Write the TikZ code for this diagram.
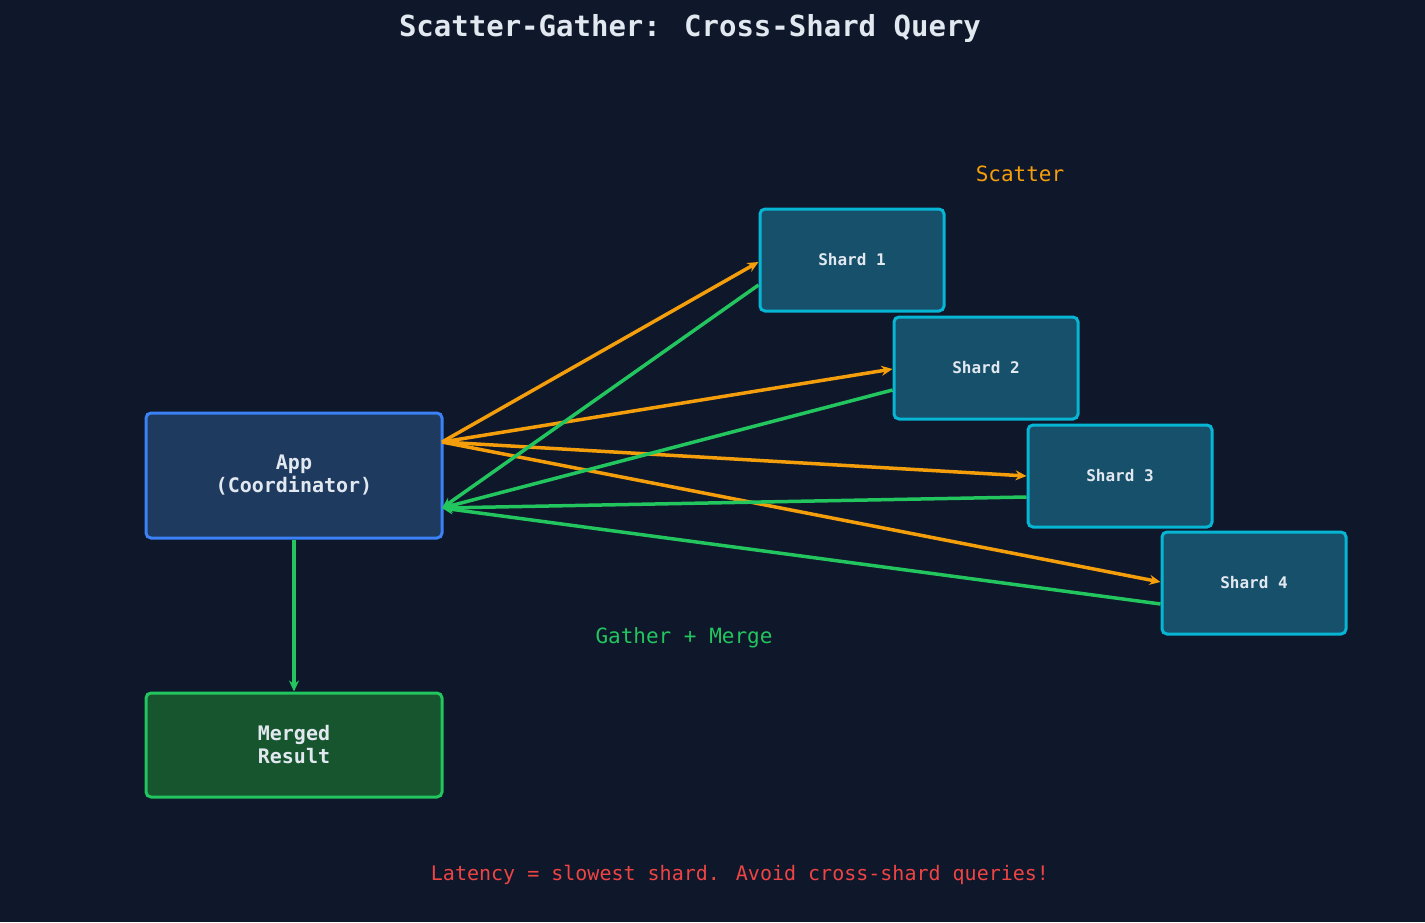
\documentclass[tikz,border=0pt]{standalone}
\usepackage{fontspec}
\setmainfont{DejaVu Sans Mono}
\usetikzlibrary{arrows.meta}
\definecolor{bg}{HTML}{0F172A}
\definecolor{appf}{HTML}{1E3A5F}
\definecolor{appb}{HTML}{3B82F6}
\definecolor{shf}{HTML}{17506A}
\definecolor{shb}{HTML}{06B6D4}
\definecolor{mf}{HTML}{17552F}
\definecolor{gr}{HTML}{22C55E}
\definecolor{orng}{HTML}{F59E0B}
\definecolor{rd}{HTML}{EF4444}
\definecolor{tx}{HTML}{E2E8F0}
\begin{document}
\begin{tikzpicture}[x=1pt,y=-1pt,
 box/.style={draw,line width=3pt,rounded corners=5pt,text=tx,font=\fontsize{20}{23}\selectfont\bfseries,align=center,inner sep=0pt},
 shard/.style={box,fill=shf,draw=shb,minimum width=184pt,minimum height=102pt,font=\fontsize{16}{19}\selectfont\bfseries},
 sc/.style={orng,line width=3.5pt,-{Stealth[length=11pt,width=10pt]}},
 ga/.style={gr,line width=3.5pt,-{Stealth[length=11pt,width=10pt]}}]
\fill[bg] (0,0) rectangle (1425,922);
\useasboundingbox (0,0) rectangle (1425,922);
\node[box,fill=appf,draw=appb,minimum width=296pt,minimum height=125pt] (app) at (294,475.5) {App\\(Coordinator)};
\node[box,fill=mf,draw=gr,minimum width=296pt,minimum height=104pt] (mr) at (294,745) {Merged\\Result};
\node[shard] (s1) at (852,260) {Shard 1};
\node[shard] (s2) at (986,368) {Shard 2};
\node[shard] (s3) at (1120,476) {Shard 3};
\node[shard] (s4) at (1254,583) {Shard 4};
\coordinate (so) at (442,442);
\coordinate (gi) at (442,508);
\draw[sc] (so) -- (s1.west |- 0,262);
\draw[sc] (so) -- (s2.west |- 0,369);
\draw[sc] (so) -- (s3.west |- 0,476);
\draw[sc] (so) -- (s4.west |- 0,582);
\draw[ga] (s1.west |- 0,285) -- (gi);
\draw[ga] (s2.west |- 0,390) -- (gi);
\draw[ga] (s3.west |- 0,497) -- (gi);
\draw[ga] (s4.west |- 0,604) -- (gi);
\draw[ga] (app.south) -- (mr.north);
\node[text=tx,font=\fontsize{29}{32}\selectfont\bfseries] (title) at (690,28) {Scatter-Gather: Cross-Shard Query};
\node[text=orng,font=\fontsize{21}{24}\selectfont] (scl) at (1020,174) {Scatter};
\node[text=gr,font=\fontsize{21}{24}\selectfont] (gml) at (684,638) {Gather + Merge};
\node[text=rd,font=\fontsize{20}{23}\selectfont] (lat) at (740,875) {Latency = slowest shard. Avoid cross-shard queries!};
\end{tikzpicture}
\end{document}
